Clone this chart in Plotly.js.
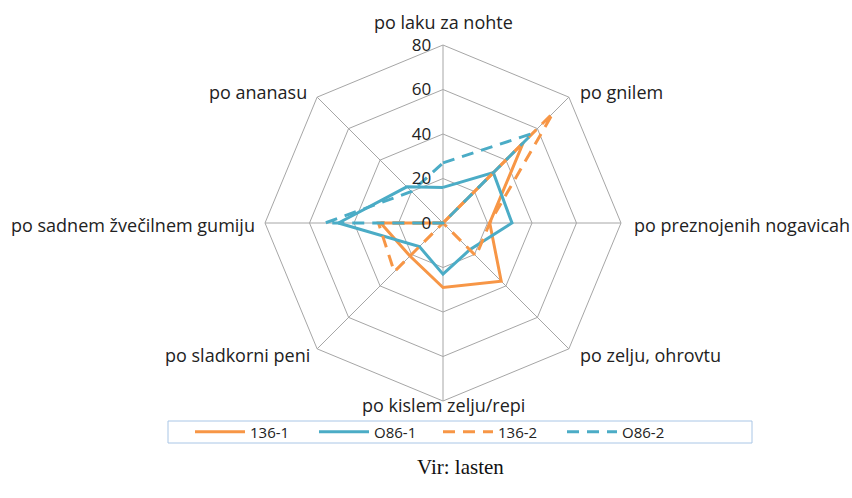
<!DOCTYPE html>
<html>
<head>
<meta charset="utf-8">
<script src="https://cdn.plot.ly/plotly-3.0.1.min.js"></script>
<style>html,body{margin:0;padding:0;background:#fff;}#chart{width:852px;height:498px;}</style>
</head>
<body>
<div id="chart"></div>
<script>
const categories = ["po laku za nohte", "po gnilem", "po preznojenih nogavicah", "po zelju, ohrovtu", "po kislem zelju/repi", "po sladkorni peni", "po sadnem žvečilnem gumiju", "po ananasu"];
const s136_1 = [0, 51, 21, 37, 29, 21, 28, 0];
const o86_1  = [16, 32, 31, 17, 23, 15, 47, 23];
const s136_2 = [0, 70, 21, 21, 0, 31, 29, 0];
const o86_2  = [27, 57, 0, 0, 0, 0, 53, 20];
const seriesNames = ["136-1", "O86-1", "136-2", "O86-2"];
const radialTicks = [0, 20, 40, 60, 80];

const ORANGE = "#f79646", BLUE = "#4bacc6";
function close(a){ return a.concat([a[0]]); }
const theta = close(categories);
const defs = [
  {name: seriesNames[0], r: s136_1, color: ORANGE, dash: "solid"},
  {name: seriesNames[1], r: o86_1, color: BLUE, dash: "solid"},
  {name: seriesNames[2], r: s136_2, color: ORANGE, dash: "12px,8px"},
  {name: seriesNames[3], r: o86_2, color: BLUE, dash: "12px,8px"}
];
const data = defs.map(d => ({
  type: "scatterpolar", mode: "lines", name: d.name,
  r: close(d.r), theta: theta,
  line: {color: d.color, width: 3, dash: d.dash}
}));

// category label placement (paper px): [x, y, anchor]
const labelPos = [
  [443, 22, "center"], [578, 92, "left"], [632, 225, "left"], [578, 355, "left"],
  [443, 405, "center"], [312, 355, "right"], [257, 225, "right"], [309, 92, "right"]
];
const W = 852, H = 498;
const catAnnotations = categories.map((c, i) => ({
  text: c, xref: "paper", yref: "paper",
  x: labelPos[i][0] / W, y: 1 - labelPos[i][1] / H,
  xanchor: labelPos[i][2], yanchor: "middle", showarrow: false,
  font: {family: "Open Sans, sans-serif", size: 18, color: "#222"}
}));

const layout = {
  width: W, height: H,
  margin: {l: 0, r: 0, t: 0, b: 0},
  paper_bgcolor: "#fff",
  font: {family: "Open Sans, sans-serif", color: "#222"},
  showlegend: true,
  legend: {
    orientation: "h", x: 190/W, xanchor: "left", y: 1 - 432/H, yanchor: "middle",
    font: {size: 15, color: "#222"}, bgcolor: "rgba(0,0,0,0)", entrywidth: 59, itemwidth: 50
  },
  polar: {
    domain: {x: [265/W, 621/W], y: [97/H, 453/H]},
    gridshape: "linear",
    bgcolor: "#fff",
    angularaxis: {
      type: "category", categoryarray: categories, rotation: 90, direction: "clockwise",
      showline: true, linecolor: "#a6a6a6", linewidth: 1,
      gridcolor: "#a6a6a6", gridwidth: 1, ticks: "", showticklabels: false
    },
    radialaxis: {
      range: [0, 80], tickvals: radialTicks, ticktext: radialTicks.map(v => v + "\u00a0\u00a0"),
      angle: 90, side: "counterclockwise", showline: false, ticks: "", tickangle: 90,
      gridcolor: "#a6a6a6", gridwidth: 1,
      tickfont: {size: 17, color: "#222"}
    }
  },
  shapes: [{type: "rect", xref: "paper", yref: "paper", x0: 168/W, x1: 752/W, y0: 1 - 443/H, y1: 1 - 421/H,
    line: {color: "#a9c6e6", width: 1}, fillcolor: "rgba(0,0,0,0)"}],
  annotations: catAnnotations.concat([{text: "Vir: lasten", xref: "paper", yref: "paper", x: 460/W, y: 1 - 467/H,
    xanchor: "center", yanchor: "middle", showarrow: false,
    font: {family: "Liberation Serif, Times New Roman, serif", size: 21, color: "#111"}}])
};
Plotly.newPlot("chart", data, layout, {staticPlot: true, displayModeBar: false});
</script>
</body>
</html>
